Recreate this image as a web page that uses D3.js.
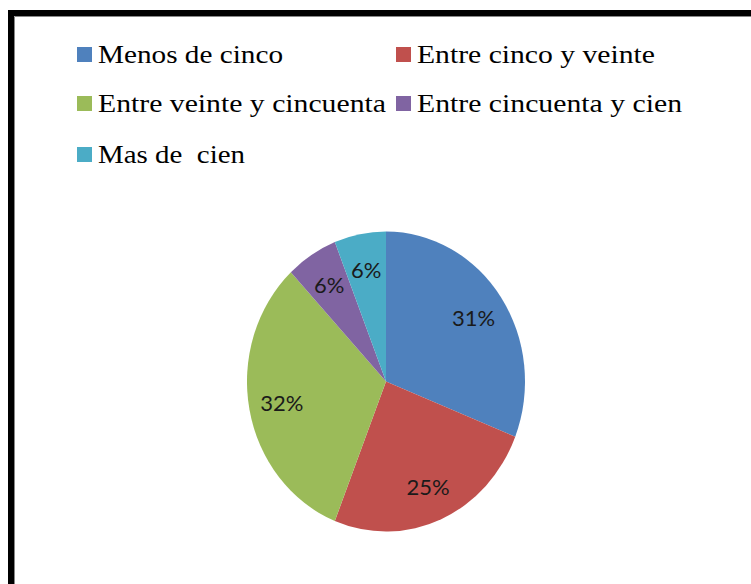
<!DOCTYPE html>
<html>
<head>
<meta charset="utf-8">
<script src="https://cdn.jsdelivr.net/npm/d3@7"></script>
<style>
  html, body { margin: 0; padding: 0; background: #fff; }
  svg { display: block; }
  .leg { font-family: "Liberation Serif", "DejaVu Serif", "Times New Roman", serif; font-size: 26px; white-space: pre; }
  .lab { font-family: Lato, "Open Sans", sans-serif; font-size: 22px; }
</style>
</head>
<body>
<svg id="chart" width="751" height="584"></svg>
<script>
const categories = ["Menos de cinco", "Entre cinco y veinte", "Entre veinte y cincuenta", "Entre cincuenta y cien", "Mas de  cien"];
const values = [31, 25, 32, 6, 6];
const labels = ["31%", "25%", "32%", "6%", "6%"];
const colors = ["#4F81BD", "#C0504D", "#9BBB59", "#8064A2", "#4BACC6"];
const legendWidths = [185, 238, 288, 265, 147];

const svg = d3.select("#chart");

// frame
svg.append("path")
  .attr("d", "M11,584 L11,13 L751,13")
  .attr("fill", "none").attr("stroke", "#000").attr("stroke-width", 6);
svg.append("path")
  .attr("d", "M14.5,584 L14.5,16.5 L751,16.5")
  .attr("fill", "none").attr("stroke", "#888").attr("stroke-width", 1);

// legend (two columns, row-major)
const colX = [77, 396];
const rowY = [63, 112, 163];
const leg = svg.append("g");
categories.forEach((c, i) => {
  const col = i % 2, row = Math.floor(i / 2);
  const g = leg.append("g").attr("transform", `translate(${colX[col]},${rowY[row]})`);
  g.append("rect").attr("x", 0).attr("y", -16).attr("width", 15).attr("height", 15).attr("fill", colors[i]);
  g.append("text")
    .attr("class", "leg")
    .attr("x", 21).attr("y", 0)
    .attr("fill", "#000")
    .attr("textLength", legendWidths[i])
    .attr("lengthAdjust", "spacingAndGlyphs")
    .text(c);
});

// pie
const cx = 386, cy = 381.5, r = 139, sy = 150 / 139;
const pie = d3.pie().sort(null).value(d => d)(values);
const arc = d3.arc().innerRadius(0).outerRadius(r);
const labelArc = d3.arc().innerRadius(106).outerRadius(106);

const pg = svg.append("g").attr("transform", `translate(${cx},${cy}) scale(1,${sy})`);
pg.selectAll("path").data(pie).enter().append("path")
  .attr("d", arc)
  .attr("fill", (d, i) => colors[i]);

const lg = svg.append("g").attr("transform", `translate(${cx},${cy})`);
lg.selectAll("text").data(pie).enter().append("text")
  .attr("class", "lab")
  .attr("x", d => labelArc.centroid(d)[0])
  .attr("y", d => labelArc.centroid(d)[1] * sy)
  .attr("text-anchor", "middle")
  .attr("dominant-baseline", "central")
  .attr("fill", "#1a1a1a")
  .text((d, i) => labels[i]);
</script>
</body>
</html>
